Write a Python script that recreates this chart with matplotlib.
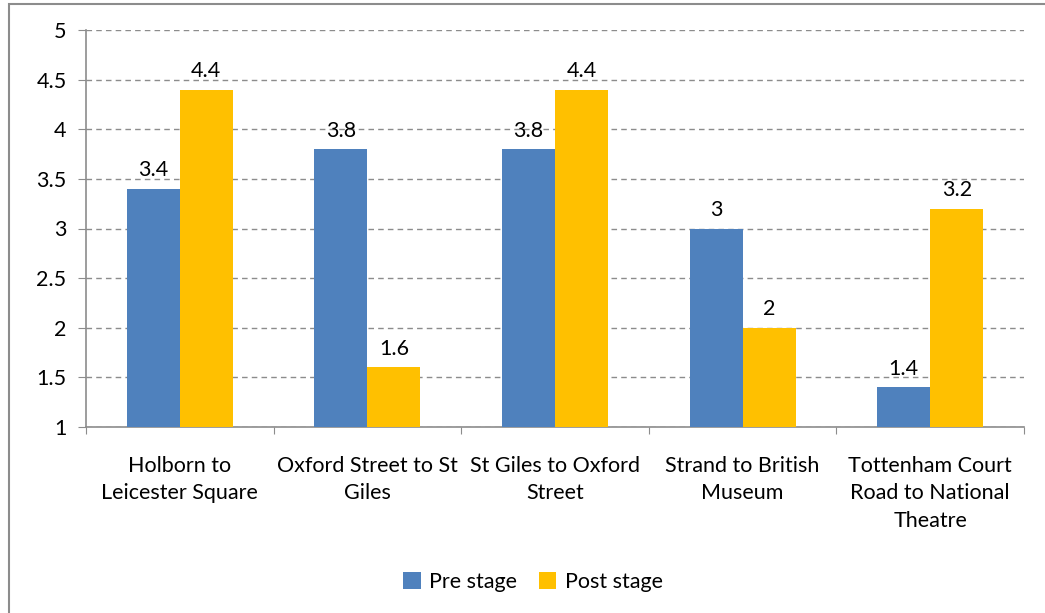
import numpy as np
import matplotlib.pyplot as plt
from matplotlib.patches import Rectangle

# data
routes = ['Holborn to\nLeicester Square', 'Oxford Street to St\nGiles',
          'St Giles to Oxford\nStreet', 'Strand to British\nMuseum',
          'Tottenham Court\nRoad to National\nTheatre']
pre_stage = [3.4, 3.8, 3.8, 3.0, 1.4]
post_stage = [4.4, 1.6, 4.4, 2.0, 3.2]
y_ticks = [1, 1.5, 2, 2.5, 3, 3.5, 4, 4.5, 5]
y_labels = ['1', '1.5', '2', '2.5', '3', '3.5', '4', '4.5', '5']

plt.rcParams['font.family'] = ['Lato', 'DejaVu Sans']
fs = 15.5

W, H = 1045, 613
fig = plt.figure(figsize=(W / 100, H / 100), dpi=100)
ax = fig.add_axes([86 / W, 1 - 427 / H, (1024 - 86) / W, (427 - 30) / H])

# outer chart border
fig.patches.append(Rectangle((9 / W, -0.05), 1.1, 1 - 4 / H + 0.05,
                             transform=fig.transFigure, fill=False,
                             edgecolor='#8c8c8c', linewidth=1.5))

x = np.arange(len(routes))
bw = 0.283
b1 = ax.bar(x - bw / 2, np.array(pre_stage) - 1, bw, bottom=1,
            color='#4f81bd', label='Pre stage', zorder=3)
b2 = ax.bar(x + bw / 2, np.array(post_stage) - 1, bw, bottom=1,
            color='#ffc000', label='Post stage', zorder=3)

for xs, vals in [(x - bw / 2, pre_stage), (x + bw / 2, post_stage)]:
    for xi, v in zip(xs, vals):
        ax.annotate(f'{v:g}', (xi, v), xytext=(0, 6), textcoords='offset points',
                    ha='center', va='bottom', fontsize=fs)

ax.set_xlim(-0.5, len(routes) - 0.5)
ax.set_ylim(1, 5)
ax.set_yticks(y_ticks)
ax.set_yticklabels(y_labels, fontsize=fs)
ax.yaxis.grid(True, linestyle=(0, (4, 3)), color='#8c8c8c', linewidth=1, zorder=0)
ax.set_axisbelow(True)

ax.set_xticks(np.arange(len(routes) + 1) - 0.5)
ax.set_xticklabels([])
ax.set_xticks(x, minor=True)
ax.set_xticklabels(routes, minor=True, fontsize=fs, linespacing=1.45)
ax.tick_params(axis='x', which='minor', length=0, pad=21)
ax.tick_params(axis='x', which='major', length=5, color='#8c8c8c', direction='out')
ax.tick_params(axis='y', length=6, color='#8c8c8c', pad=8)

for s in ['top', 'right']:
    ax.spines[s].set_visible(False)
for s in ['left', 'bottom']:
    ax.spines[s].set_color('#8c8c8c')
    ax.spines[s].set_linewidth(1.2)

fig.legend(handles=[b1, b2], loc='center', bbox_to_anchor=(533 / W, 1 - 582 / H),
           ncol=2, frameon=False, fontsize=fs, handlelength=0.8, handleheight=0.8,
           columnspacing=1.0, handletextpad=0.4)

fig.savefig('out.png', dpi=100, facecolor='white')
